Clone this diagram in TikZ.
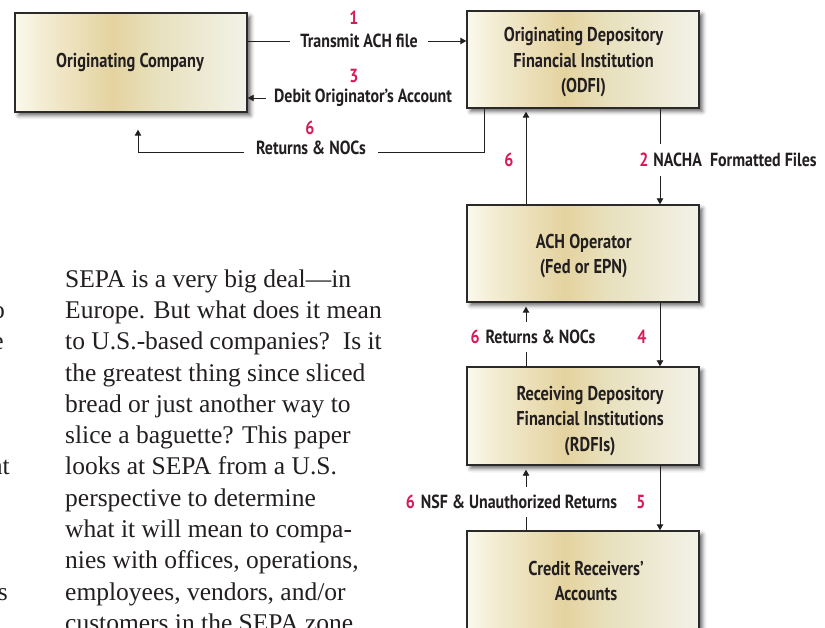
\documentclass[tikz,border=0pt]{standalone}
\usepackage{fontspec}
\setmainfont{Liberation Serif}
\newfontfamily\cond[FakeStretch=0.84]{PT Sans}
\newfontfamily\condb[FakeStretch=0.82]{PT Sans}
\usetikzlibrary{arrows.meta,shadows.blur}
\definecolor{ink}{HTML}{231F20}
\definecolor{numred}{HTML}{D71A5B}
\definecolor{boxline}{HTML}{2B2A28}
\definecolor{gA}{HTML}{FBF9EE}
\definecolor{gB}{HTML}{F3ECD2}
\definecolor{gC}{HTML}{E4D3A0}
\definecolor{gD}{HTML}{E8E0BC}
\definecolor{gE}{HTML}{F2F2E8}
\pgfdeclarehorizontalshading{boxshade}{100bp}{color(0bp)=(gA); color(25bp)=(gA); color(31bp)=(gB); color(46bp)=(gC); color(55bp)=(gD); color(75bp)=(gE); color(100bp)=(gE)}
\tikzset{
  box/.style={draw=boxline, line width=1.4pt, shading=boxshade, minimum width=232pt, inner sep=0pt,
    blur shadow={shadow xshift=3.5pt, shadow yshift=-3.5pt, shadow blur radius=4pt, shadow opacity=60}},
  btext/.style={font=\condb\bfseries\fontsize{20}{25.5}\selectfont, text=ink, align=center, inner sep=0pt},
  lab/.style={font=\cond\bfseries\fontsize{19}{20}\selectfont, text=ink, fill=white, inner xsep=10pt, inner ysep=3pt},
  num/.style={font=\cond\bfseries\fontsize{19}{20}\selectfont, text=numred, inner sep=0pt},
  plain/.style={draw=ink, line width=0.9pt},
  conn/.style={draw=ink, line width=0.9pt, -{Triangle[length=6pt,width=6.5pt]}},
  body/.style={font=\fontsize{25.5}{31}\selectfont, text=ink, anchor=base west, inner sep=0pt}
}
\newcommand{\rn}[1]{\textcolor{numred}{#1}}
\begin{document}
\begin{tikzpicture}[x=1pt,y=-1pt]
\useasboundingbox (0,0) rectangle (825,628);
% boxes
\node[box, minimum height=99pt] (orig) at (131,62.5) {};
\node[box, minimum height=97pt] (odfi) at (583,59.5) {};
\node[box, minimum height=97pt] (ach) at (583,253.5) {};
\node[box, minimum height=98pt] (rdfi) at (583,416) {};
\node[box, minimum height=102pt] (cred) at (583,582) {};
% box texts
\node[btext] (origT) at (130,62) {Originating Company};
\node[btext] (odfiT) at (583.5,62.5) {Originating Depository\\Financial Institution\\(ODFI)};
\node[btext] (achT) at (583.7,256) {ACH Operator\\(Fed or EPN)};
\node[btext] (rdfiT) at (590,421) {Receiving Depository\\Financial Institutions\\(RDFIs)};
\node[btext] (credT) at (586,581) {Credit Receivers’\\Accounts};
% top labels
\node[lab] (lab1) at (359,41) {Transmit ACH file};
\node[num] (n1) at (354,18) {1};
\node[lab, inner xsep=8pt] (lab3) at (363,98) {Debit Originator’s Account};
\node[num] (n3) at (354,76) {3};
\node[lab, inner xsep=12pt] (lab6a) at (311,148) {Returns \& NOCs};
\node[num] (n6a) at (310,128) {6};
\coordinate (xL) at (526,0);
\coordinate (xR) at (660,0);
\coordinate (r1) at (484,152);
\coordinate (r2) at (138,152);
% top connectors
\draw[plain] (orig.east |- lab1.center) -- (lab1.west);
\draw[conn] (lab1.east) -- (odfi.west |- lab1.center);
\draw[conn] (lab3.west) -- (orig.east |- lab3.west);
\draw[plain] (odfi.south -| r1) -- (r1) -- (lab6a.east |- r1);
\draw[conn, shorten >=17pt] (lab6a.west |- r1) -- (r2) -- (orig.south -| r2);
% vertical connectors
\draw[conn] (odfi.south -| xR) -- (ach.north -| xR);
\draw[conn, shorten >=3pt] (ach.north -| xL) -- (odfi.south -| xL);
\draw[conn] (ach.south -| xR) -- (rdfi.north -| xR);
\draw[conn, shorten >=4pt] (rdfi.north -| xL) -- (ach.south -| xL);
\draw[conn] (rdfi.south -| xR) -- (cred.north -| xR);
\draw[conn, shorten >=4pt] (cred.north -| xL) -- (rdfi.south -| xL);
% vertical labels
\node[lab, inner xsep=4pt, inner ysep=9pt] (lab2) at (728,160) {\rn{2}\hspace{5pt}NACHA\ \ Formatted Files};
\node[num] (n6b) at (509,160) {6};
\node[lab, inner xsep=4pt, inner ysep=8pt] (lab6c) at (533,337) {\rn{6}\hspace{6pt}Returns \& NOCs};
\node[num] (n4) at (642,337) {4};
\node[lab, inner xsep=4pt, inner ysep=8pt] (lab6d) at (511.5,502) {\rn{6}\hspace{6pt}NSF \& Unauthorized Returns};
\node[num] (n5) at (641,502) {5};
% body text
\node[body] (t1) at (65,287.3) {SEPA is a very big deal—in};
\node[body] (t2) at (65,318.6) {Europe. But what does it mean};
\node[body] (t3) at (65,349.8) {to U.S.-based companies?\ \ Is it};
\node[body] (t4) at (65,381.1) {the greatest thing since sliced};
\node[body] (t5) at (65,412.4) {bread or just another way to};
\node[body] (t6) at (65,443.7) {slice a baguette? This paper};
\node[body] (t7) at (65,474.9) {looks at SEPA from a U.S.};
\node[body] (t8) at (65,506.2) {perspective to determine};
\node[body] (t9) at (65,537.5) {what it will mean to compa-};
\node[body] (t10) at (65,568.7) {nies with offices, operations,};
\node[body] (t11) at (65,600.0) {employees, vendors, and/or};
\node[body] (t12) at (65,631.3) {customers in the SEPA zone};
% clipped fragments of the neighbouring column
\node[body, anchor=base east] (f1) at (5,318.6) {to};
\node[body, anchor=base east] (f2) at (4,349.8) {the};
\node[body, anchor=base east] (f3) at (10,474.9) {that};
\node[body, anchor=base east] (f4) at (8,600.0) {es};
\end{tikzpicture}
\end{document}
